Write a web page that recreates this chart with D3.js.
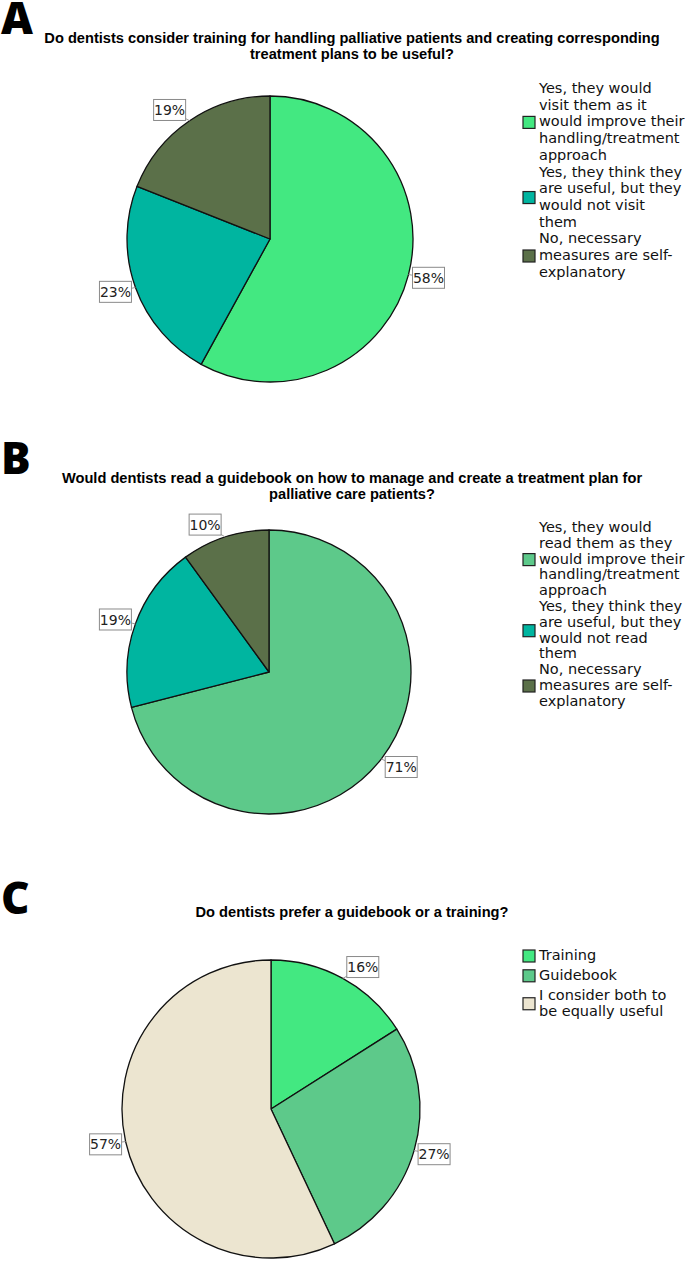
<!DOCTYPE html>
<html>
<head>
<meta charset="utf-8">
<script src="https://cdn.jsdelivr.net/npm/d3@7"></script>
<style>
  body { margin: 0; background: #fff; }
  svg { display: block; }
</style>
</head>
<body>
<svg id="chart"></svg>
<script>
const width = 685;
const height = 1261;

// panel A
const titleA = ['Do dentists consider training for handling palliative patients and creating corresponding',
                'treatment plans to be useful?'];
const catsA = [
  ['Yes, they would', 'visit them as it', 'would improve their', 'handling/treatment', 'approach'],
  ['Yes, they think they', 'are useful, but they', 'would not visit', 'them'],
  ['No, necessary', 'measures are self-', 'explanatory']
];
const valuesA = [58, 23, 19];
const colorsA = ['#43e881', '#00b5a0', '#5b7049'];

// panel B
const titleB = ['Would dentists read a guidebook on how to manage and create a treatment plan for',
                'palliative care patients?'];
const catsB = [
  ['Yes, they would', 'read them as they', 'would improve their', 'handling/treatment', 'approach'],
  ['Yes, they think they', 'are useful, but they', 'would not read', 'them'],
  ['No, necessary', 'measures are self-', 'explanatory']
];
const valuesB = [71, 19, 10];
const colorsB = ['#5dc98a', '#00b5a0', '#5b7049'];

// panel C
const titleC = ['Do dentists prefer a guidebook or a training?'];
const catsC = [
  ['Training'],
  ['Guidebook'],
  ['I consider both to', 'be equally useful']
];
const valuesC = [16, 27, 57];
const colorsC = ['#43e881', '#5dc98a', '#ece5d0'];

const panels = [
  {letter: 'A', top: 0,   title: titleA, cats: catsA, values: valuesA, colors: colorsA,
   cx: 270, cy: 239, r: 143, legendY: 93, lineH: 16.7, gap: 0},
  {letter: 'B', top: 440, title: titleB, cats: catsB, values: valuesB, colors: colorsB,
   cx: 269, cy: 672, r: 142, legendY: 532, lineH: 15.8, gap: 0},
  {letter: 'C', top: 880, title: titleC, cats: catsC, values: valuesC, colors: colorsC,
   cx: 271, cy: 1109, r: 149, legendY: 960, lineH: 16.3, gap: 3.5}
];

const svg = d3.select('#chart')
  .attr('width', width)
  .attr('height', height);

panels.forEach(p => {
  const g = svg.append('g');

  g.append('text')
    .attr('x', 1)
    .attr('y', p.top + 34)
    .style('font-family', '"Open Sans", sans-serif')
    .style('font-weight', 800)
    .style('font-size', '44px')
    .text(p.letter);

  g.selectAll('.title')
    .data(p.title)
    .enter().append('text')
    .attr('transform', (d, i) =>
      `translate(352,${p.top + (p.title.length == 1 ? 37 : 43) + i * 16}) scale(0.945,1)`)
    .attr('text-anchor', 'middle')
    .style('font-family', '"Liberation Sans", Arial, sans-serif')
    .style('font-weight', 'bold')
    .style('font-size', '15.5px')
    .text(d => d);

  const pie = d3.pie().sort(null).value(d => d);
  const arcs = pie(p.values);
  const arc = d3.arc().innerRadius(0).outerRadius(p.r);
  const edgeArc = d3.arc().innerRadius(p.r).outerRadius(p.r);

  const pg = g.append('g').attr('transform', `translate(${p.cx},${p.cy})`);

  pg.selectAll('path')
    .data(arcs)
    .enter().append('path')
    .attr('d', arc)
    .attr('fill', (d, i) => p.colors[i])
    .attr('stroke', '#111')
    .attr('stroke-width', 1.3)
    .attr('stroke-linejoin', 'round');

  // label box sits just outside the rim, pushed sideways from the edge point
  const labelPos = d => {
    const a = (d.startAngle + d.endAngle) / 2;
    const e = edgeArc.centroid(d);
    return [e[0] + 20 * Math.sign(Math.sin(a)), e[1] - 13 * Math.cos(a)];
  };

  pg.selectAll('.leader')
    .data(arcs)
    .enter().append('line')
    .attr('x1', d => edgeArc.centroid(d)[0])
    .attr('y1', d => edgeArc.centroid(d)[1])
    .attr('x2', d => labelPos(d)[0])
    .attr('y2', d => labelPos(d)[1])
    .attr('stroke', '#999')
    .attr('stroke-width', 1);

  const labels = pg.selectAll('.lab')
    .data(arcs)
    .enter().append('g')
    .attr('transform', d => `translate(${labelPos(d)})`);

  labels.append('rect')
    .attr('x', -16).attr('y', -10.5)
    .attr('width', 32).attr('height', 21)
    .attr('fill', '#fff')
    .attr('stroke', '#8a8a8a')
    .attr('stroke-width', 1);

  labels.append('text')
    .attr('text-anchor', 'middle')
    .attr('dy', '0.36em')
    .style('font-family', '"DejaVu Sans", sans-serif')
    .style('font-size', '14px')
    .attr('fill', '#222')
    .text(d => d.data + '%');

  // legend
  let y = p.legendY;
  p.cats.forEach((lines, i) => {
    const n = lines.length;
    const mid = y + (n - 1) / 2 * p.lineH;
    g.append('rect')
      .attr('x', 523).attr('y', mid - 10)
      .attr('width', 12).attr('height', 12)
      .attr('fill', p.colors[i])
      .attr('stroke', '#222')
      .attr('stroke-width', 1.2);
    lines.forEach((t, j) => {
      g.append('text')
        .attr('x', 539)
        .attr('y', y + j * p.lineH)
        .style('font-family', '"DejaVu Sans", sans-serif')
        .style('font-size', '14.5px')
        .attr('fill', '#111')
        .text(t);
    });
    y += n * p.lineH + p.gap;
  });
});
</script>
</body>
</html>
